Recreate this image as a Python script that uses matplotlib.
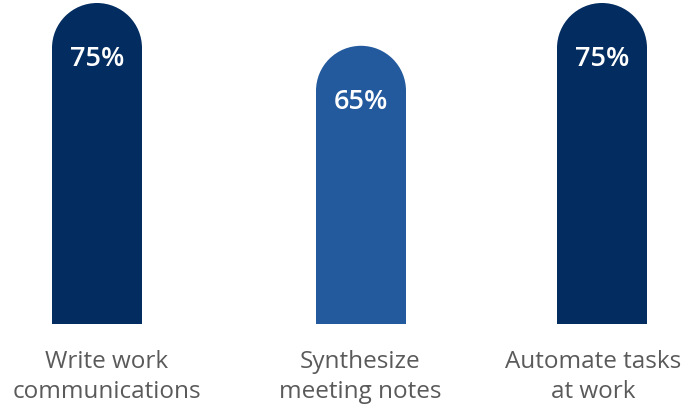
import matplotlib
matplotlib.use("Agg")
import matplotlib.pyplot as plt
from matplotlib.patches import Rectangle, Ellipse

# Share of respondents per use case
categories = ["Write work\ncommunications", "Synthesize\nmeeting notes", "Automate tasks\nat work"]
values = [75, 65, 75]
value_labels = ["75%", "65%", "75%"]
colors = ["#032D60", "#235A9E", "#032D60"]

W, H = 698, 413
fig = plt.figure(figsize=(W / 100, H / 100), dpi=100)
ax = fig.add_axes([0, 0, 1, 1])

# x in pixels, y in percent (0 sits 89px above the bottom edge)
px_per_unit = 321 / 75
y_bottom = -89 / px_per_unit
ax.set_xlim(0, W)
ax.set_ylim(y_bottom, y_bottom + H / px_per_unit)
ax.axis("off")

bar_x = [97, 361, 602]
label_x = [107, 360, 593]
bar_w = 90
r_y = (bar_w / 2) / px_per_unit  # radius of the rounded top, in y units

for x, v, c, lab in zip(bar_x, values, colors, value_labels):
    ax.add_patch(Rectangle((x - bar_w / 2, 0), bar_w, v - r_y + 0.3, color=c, lw=0))
    ax.add_patch(Ellipse((x, v - r_y), bar_w, 2 * r_y, color=c, lw=0))
    ax.text(x, v - 56 / px_per_unit, lab, ha="center", va="center",
            color="white", fontsize=19.5, fontweight="semibold", family="Open Sans")

for x, cat in zip(label_x, categories):
    ax.text(x, y_bottom + (413 - 377) / px_per_unit, cat, ha="center", va="center",
            color="#5a5a5a", fontsize=17.5, family="Open Sans", linespacing=1.28)

fig.savefig("out.png", dpi=100)
